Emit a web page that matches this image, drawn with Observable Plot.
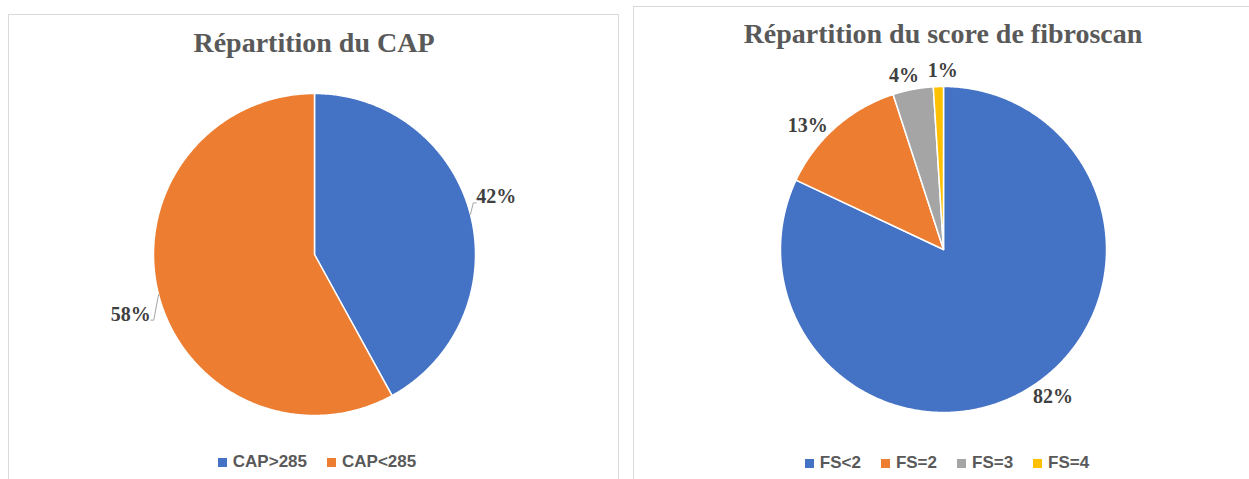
<!DOCTYPE html>
<html><head><meta charset="utf-8">
<script src="https://cdn.jsdelivr.net/npm/d3@7"></script>
<script src="https://cdn.jsdelivr.net/npm/@observablehq/plot@0.6"></script>
<style>
body{margin:0;background:#fff;width:1249px;height:479px;overflow:hidden;position:relative;font-family:"Liberation Sans",Arial,sans-serif}
.box{position:absolute;border:1px solid #d9d9d9;background:#fff;box-sizing:border-box}
.title{position:absolute;left:0;right:0;text-align:center;font-family:"Liberation Serif",serif;font-weight:bold;font-size:28px;line-height:28px;color:#595959;white-space:nowrap}
.legend{position:absolute;left:0;right:0;display:flex;justify-content:center;gap:20px;font-size:17px;line-height:18px;font-weight:bold;color:#595959}
.item{display:flex;align-items:center;gap:6px}
.sw{width:9px;height:9px;display:inline-block}
</style></head><body>
<div id="left" class="box" style="left:8px;top:14px;width:611px;height:480px"></div>
<div id="right" class="box" style="left:633px;top:6px;width:640px;height:490px"></div>
<script>
// ---- data ----
const capTitle = "Répartition du CAP";
const capCategories = ["CAP>285", "CAP<285"];
const capValues = [42, 58];

const fsTitle = "Répartition du score de fibroscan";
const fsCategories = ["FS<2", "FS=2", "FS=3", "FS=4"];
const fsValues = [82, 13, 4, 1];

const palette = ["#4472C4", "#ED7D31", "#A5A5A5", "#FFC000"];

// ---- drawing ----
function drawPie(el, title, cats, vals, o) {
  const W = o.width, H = o.height, R = o.r;
  const arcs = d3.pie().sort(null).value(d => d)(vals);
  const slices = [], labels = [], leaders = [];
  arcs.forEach((a, i) => {
    const cat = cats[i];
    slices.push({cat, x: 0, y: 0});
    const n = Math.max(2, Math.ceil((a.endAngle - a.startAngle) / (Math.PI / 360)));
    for (let k = 0; k <= n; k++) {
      const t = a.startAngle + (a.endAngle - a.startAngle) * k / n;
      slices.push({cat, x: R * Math.sin(t), y: -R * Math.cos(t)});
    }
    slices.push({cat, x: 0, y: 0});
    const m = (a.startAngle + a.endAngle) / 2, s = Math.sin(m), c = -Math.cos(m);
    const pr = R + o.gap;
    const anchor = s > 0.25 ? "start" : s < -0.25 ? "end" : "middle";
    const nd = o.nudge[cat] || [0, 0];
    let lx = pr * s + (anchor === "middle" ? s * 15 : 0) + nd[0];
    let ly = pr * c + c * 8.5 + nd[1];
    labels.push({cat, x: lx, y: ly, anchor, text: `${vals[i]}%`});
    if (o.leaders) {
      leaders.push({cat, x: R * s, y: R * c});
      const ex = lx + (anchor === "start" ? -3 : 3), ey = ly + 6;
      leaders.push({cat, x: ex, y: ey});
      leaders.push({cat, x: lx, y: ey});
    }
  });
  const textOpts = a => ({x: "x", y: "y", text: "text", textAnchor: a, fill: "#404040",
    fontFamily: "Liberation Serif, serif", fontWeight: "bold", fontSize: 20});
  const svg = Plot.plot({
    width: W, height: H, margin: 0,
    style: {background: "transparent", overflow: "visible"},
    x: {domain: [-o.cx, W - o.cx], range: [0, W], axis: null},
    y: {domain: [-o.cy, H - o.cy], range: [0, H], axis: null},
    color: {domain: cats, range: palette},
    marks: [
      Plot.line(slices, {x: "x", y: "y", z: "cat", fill: "cat", stroke: "white", strokeWidth: 1.5, strokeLinejoin: "round"}),
      Plot.line(leaders, {x: "x", y: "y", z: "cat", stroke: "#a6a6a6", strokeWidth: 1}),
      Plot.text(labels.filter(d => d.anchor === "start"), textOpts("start")),
      Plot.text(labels.filter(d => d.anchor === "end"), textOpts("end")),
      Plot.text(labels.filter(d => d.anchor === "middle"), textOpts("middle"))
    ]
  });
  svg.style.position = "absolute";
  svg.style.left = "0px";
  svg.style.top = "0px";
  el.appendChild(svg);

  const t = document.createElement("div");
  t.className = "title";
  t.style.top = o.titleTop + "px";
  t.style.width = W + "px";
  t.style.left = (o.cx - W / 2) + "px";
  t.style.right = "auto";
  t.textContent = title;
  el.appendChild(t);

  const lg = document.createElement("div");
  lg.className = "legend";
  lg.style.top = o.legendTop + "px";
  lg.style.width = W + "px";
  lg.style.left = (o.cx - W / 2 + o.legendShift) + "px";
  lg.style.right = "auto";
  cats.forEach((c, i) => {
    const it = document.createElement("span");
    it.className = "item";
    const sw = document.createElement("span");
    sw.className = "sw";
    sw.style.background = palette[i];
    const tx = document.createElement("span");
    tx.textContent = c;
    it.appendChild(sw); it.appendChild(tx);
    lg.appendChild(it);
  });
  el.appendChild(lg);
}

drawPie(document.getElementById("left"), capTitle, capCategories, capValues,
  {width: 609, height: 430, cx: 305, cy: 239, r: 161, gap: 6, titleTop: 14, legendTop: 438, legendShift: 3,
   leaders: true, nudge: {"CAP>285": [0, -14], "CAP<285": [-2, 16]}});
drawPie(document.getElementById("right"), fsTitle, fsCategories, fsValues,
  {width: 620, height: 440, cx: 309, cy: 242, r: 163, gap: 6, titleTop: 13, legendTop: 447, legendShift: 4,
   leaders: false, nudge: {"FS<2": [-1, -3], "FS=2": [-4, 9], "FS=3": [-5, 0], "FS=4": [5, -1]}});
</script>
</body></html>
